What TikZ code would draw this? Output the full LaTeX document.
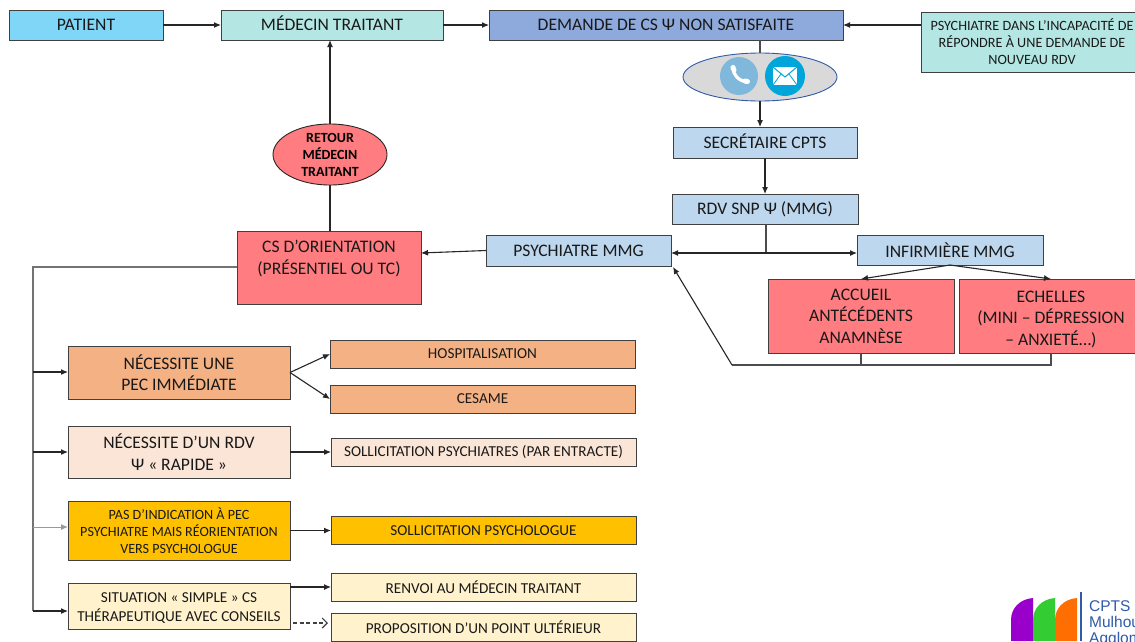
\documentclass[tikz,border=0pt]{standalone}
\usepackage{fontspec}
\setmainfont{Carlito}
\newfontfamily\logofont{Liberation Sans}
\usetikzlibrary{positioning,shapes.geometric,arrows.meta}

\definecolor{patientfill}{HTML}{7FD6F7}
\definecolor{tealfill}{HTML}{B4E7E3}
\definecolor{demandefill}{HTML}{8EA9DB}
\definecolor{bluefill}{HTML}{BDD7EE}
\definecolor{redfill}{HTML}{FF7C80}
\definecolor{orangefill}{HTML}{F4B183}
\definecolor{peachfill}{HTML}{FBE5D6}
\definecolor{goldfill}{HTML}{FFC000}
\definecolor{creamfill}{HTML}{FFF2CC}
\definecolor{logoblue}{HTML}{2F5BA8}
\definecolor{phonefill}{HTML}{7FB8DA}
\definecolor{mailfill}{HTML}{00A5DA}
\definecolor{logopurple}{HTML}{9900CC}
\definecolor{logogreen}{HTML}{33CC33}
\definecolor{logoorange}{HTML}{FF6E00}

\begin{document}
\begin{tikzpicture}[x=1pt, y=-1pt]
	% Set the styles used by the boxes and the connectors.
	\tikzset{
		block/.style={draw=black!75, rectangle, outer sep=0pt, inner sep=1pt, align=center, line width=0.9pt, text=black!90, font=\fontsize{17.6}{21.5}\selectfont},
		wide/.style={block, minimum width=222pt},
		action/.style={block, minimum width=305pt, minimum height=28pt, font=\fontsize{15.2}{17}\selectfont},
		line/.style={-{Latex[length=7pt,width=6pt]}, line width=1.1pt, black!85},
		plain/.style={line width=1.1pt, black!70},
		logotext/.style={anchor=base west, inner sep=0pt, text=logoblue, font=\logofont\fontsize{15.5}{17}\selectfont}
	}
	\useasboundingbox (0,0) rectangle (1135,641);
	
	% === NODES ===
	% Top row, starting from the left.
	
	\node[block, fill=patientfill, minimum width=154pt, minimum height=30pt] (patient) at (86,25) {PATIENT};
	\node[block, fill=tealfill, minimum width=222pt, minimum height=30pt, right=58pt of patient] (medecin) {MÉDECIN TRAITANT\rule[-3pt]{0pt}{1pt}};
	\node[block, fill=demandefill, minimum width=354pt, minimum height=30pt, right=46pt of medecin] (demande) {DEMANDE DE CS Ψ NON SATISFAITE};
	\node[block, fill=tealfill, minimum width=222pt, minimum height=60pt, font=\fontsize{14.2}{17}\selectfont] (incapacite) at (1032,42) {PSYCHIATRE DANS L’INCAPACITÉ DE\\RÉPONDRE À UNE DEMANDE DE\\NOUVEAU RDV};
	
	% Right column.
	\node[ellipse, draw=logoblue, fill=black!15, line width=0.9pt, minimum width=154pt, minimum height=48pt, inner sep=0pt, outer sep=0pt] (contact) at (760,77) {};
	\node[circle, fill=phonefill, minimum size=38pt, inner sep=0pt] (phone) at (739,76) {};
	\node[circle, fill=mailfill, minimum size=40pt, inner sep=0pt] (mail) at (785,76) {};
	\node[block, fill=bluefill, minimum width=184pt, minimum height=31pt] (secretaire) at (765,142.5) {SECRÉTAIRE CPTS\rule[-3pt]{0pt}{1pt}};
	\node[block, fill=bluefill, minimum width=186pt, minimum height=30pt, below=36pt of secretaire] (rdv) {RDV SNP Ψ (MMG)};
	\node[block, fill=bluefill, minimum width=186pt, minimum height=30pt] (infirmiere) at (950,250) {INFIRMIÈRE MMG};
	\node[block, fill=bluefill, minimum width=185pt, minimum height=31pt] (psychiatre) at (578.5,250.5) {PSYCHIATRE MMG};
	\node[block, fill=redfill, minimum width=186pt, minimum height=74pt] (accueil) at (861,316) {ACCUEIL\\ANTÉCÉDENTS\\ANAMNÈSE};
	\node[block, fill=redfill, minimum width=184pt, minimum height=74pt, right=5pt of accueil] (echelles) {\rule{0pt}{18pt}ECHELLES\\(MINI – DÉPRESSION\\– ANXIETÉ…)};
	
	% Middle of the picture.
	\node[block, fill=redfill, minimum width=184pt, minimum height=73pt] (orientation) at (329,267.5) {CS D’ORIENTATION\\(PRÉSENTIEL OU TC)\rule[-20pt]{0pt}{1pt}};
	\node[ellipse, draw=black!85, fill=redfill, line width=0.9pt, minimum width=114pt, minimum height=61pt, inner sep=0pt, outer sep=0pt, align=center, font=\fontsize{14}{17}\selectfont\bfseries] (retour) at (330,154.5) {RETOUR\\MÉDECIN\\TRAITANT};
	
	% Left column with its answers.
	\node[wide, fill=orangefill, minimum height=53pt] (immediate) at (179,372.5) {NÉCESSITE UNE\\PEC IMMÉDIATE};
	\node[action, fill=orangefill] (hospitalisation) at (482.5,354) {HOSPITALISATION};
	\node[action, fill=orangefill, below=17pt of hospitalisation] (cesame) {CESAME};
	\node[wide, fill=peachfill, minimum height=52pt] (rapide) at (179,452) {NÉCESSITE D’UN RDV\\Ψ « RAPIDE »};
	\node[action, fill=peachfill, right=41pt of rapide] (entracte) {SOLLICITATION PSYCHIATRES (PAR ENTRACTE)};
	\node[wide, fill=goldfill, minimum height=59pt, font=\fontsize{14.1}{17}\selectfont] (indication) at (179,530.5) {PAS D’INDICATION À PEC\\PSYCHIATRE MAIS RÉORIENTATION\\VERS PSYCHOLOGUE};
	\node[action, fill=goldfill, right=41pt of indication] (psychologue) {SOLLICITATION PSYCHOLOGUE};
	\node[wide, fill=creamfill, minimum height=46pt, font=\fontsize{15.2}{18.5}\selectfont] (situation) at (179,606) {\rule{0pt}{14pt}SITUATION « SIMPLE » CS\\THÉRAPEUTIQUE AVEC CONSEILS};
	\node[action, fill=creamfill] (renvoi) at (483.5,587) {RENVOI AU MÉDECIN TRAITANT};
	\node[action, fill=creamfill, below=12pt of renvoi] (point) {PROPOSITION D’UN POINT ULTÉRIEUR};
	
	% Helper points for the elbows.
	\coordinate (split) at (766,253);
	\coordinate (corner) at (732,365);
	\coordinate (underaccueil) at (accueil.south |- corner);
	\coordinate (underechelles) at (echelles.south |- corner);
	\coordinate (trunk) at (33,267);
	\coordinate (trunkfirst) at (33,372);
	\coordinate (trunksecond) at (33,452);
	\coordinate (trunkthird) at (33,527);
	\coordinate (trunklast) at (33,611);
	\coordinate (dashstart) at (293,623);
	\coordinate (dashend) at (328,623);
	\coordinate (psychiatrefoot) at (673,267);
	\coordinate (orientationentry) at (421,253);
	
	% === CONNECTIONS ===
	
	\draw[line] (patient) -- (medecin);
	\draw[line] (medecin) -- (demande);
	\draw[line] (incapacite.west |- demande) -- (demande);
	\draw[plain] (contact.north |- demande.south) -- (contact.north);
	\draw[line] (contact.south) -- (contact.south |- secretaire.north);
	\draw[line] (secretaire) -- (rdv);
	\draw[plain] (split |- rdv.south) -- (split);
	\draw[line] (split) -- (split -| psychiatre.east);
	\draw[line] (split) -- (split -| infirmiere.west);
	\draw[line] (infirmiere.south) -- (accueil.north);
	\draw[line] (infirmiere.south) -- (echelles.north);
	\draw[plain] (accueil.south) -- (underaccueil);
	\draw[plain] (echelles.south) -- (underechelles) -- (corner);
	\draw[line] (corner) -- (psychiatrefoot);
	\draw[line] (psychiatre.west) -- (orientationentry);
	\draw[plain, black!85] (orientation.north -| retour.south) -- (retour.south);
	\draw[line] (retour.north) -- (retour.north |- medecin.south);
	\draw[plain, black!55] (orientation.west |- trunk) -- (trunk) -- (trunklast);
	\draw[line] (trunkfirst) -- (trunkfirst -| immediate.west);
	\draw[line] (trunksecond) -- (rapide.west);
	\draw[-{Latex[length=7pt,width=6pt]}, line width=1pt, black!40] (trunkthird) -- (indication.west |- trunkthird);
	\draw[line] (trunklast) -- (situation.west |- trunklast);
	\draw[line] (immediate.east) -- (hospitalisation.west);
	\draw[line] (immediate.east) -- (cesame.west);
	\draw[line] (rapide) -- (entracte);
	\draw[line] (indication) -- (psychologue);
	\draw[line] (situation.east |- renvoi) -- (renvoi);
	\draw[dash pattern=on 4pt off 2.5pt, -{Straight Barb[length=5pt,width=10pt]}, line width=1.1pt, black!75] (dashstart) -- (dashend);
	
	% === ICONS AND LOGO ===
	
	\draw[white, line width=3.2pt, line cap=round] (733,68) .. controls (733,75) and (739,81) .. (747,82);
	\draw[white, line width=5pt, line cap=round] (733,67.5) -- (734,70);
	\draw[white, line width=5pt, line cap=round] (745,81) -- (747.5,81.5);
	\fill[white] (773,67) rectangle (797,85);
	\draw[mailfill, line width=1pt] (773,67) -- (785,77) -- (797,67);
	\draw[mailfill, line width=0.8pt] (773,85) -- (781,74);
	\draw[mailfill, line width=0.8pt] (797,85) -- (789,74);
	
	\fill[logopurple] (1011,641) -- (1011,620) .. controls (1011,608) and (1020,599) .. (1033,598) -- (1033,641) -- cycle;
	\fill[logogreen] (1033,641) -- (1033,620) .. controls (1033,608) and (1042,599) .. (1055,598) -- (1055,641) -- cycle;
	\fill[logoorange] (1055,641) -- (1055,620) .. controls (1055,608) and (1064,599) .. (1077,598) -- (1077,641) -- cycle;
	\draw[logoblue, line width=1.2pt] (1081,592) -- (1081,641);
	\node[logotext] (logoa) at (1089,611) {CPTS};
	\node[logotext] (logob) at (1089,627) {Mulhou};
	\node[logotext] (logoc) at (1089,643) {Agglom};
\end{tikzpicture}
\end{document}
